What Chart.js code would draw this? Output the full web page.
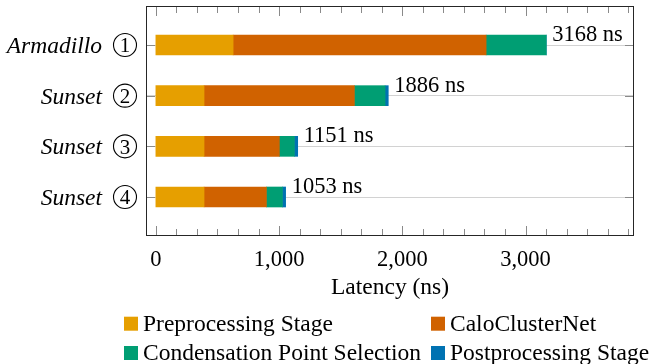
<!DOCTYPE html>
<html>
<head>
<meta charset="utf-8">
<script src="https://cdn.jsdelivr.net/npm/chart.js@4.4.0/dist/chart.umd.min.js"></script>
<style>
  html, body { margin: 0; padding: 0; background: #fff; }
  canvas { display: block; }
</style>
</head>
<body>
<canvas id="latency" width="651" height="364"></canvas>
<script>
// Per-stage latency (ns) for each run
const runNames = ['Armadillo', 'Sunset', 'Sunset', 'Sunset'];
const runIds = ['1', '2', '3', '4'];
const stageNames = ['Preprocessing Stage', 'CaloClusterNet', 'Condensation Point Selection', 'Postprocessing Stage'];
const preprocessing = [627, 391, 391, 391];
const caloClusterNet = [2053, 1220, 611, 506];
const condensation = [488, 249, 122, 130];
const postprocessing = [0, 26, 27, 26];
const xTickValues = [0, 1000, 2000, 3000];

const stageColors = ['#E69F00', '#D06200', '#009E73', '#0072B2'];
const stageSeries = [preprocessing, caloClusterNet, condensation, postprocessing];
const SERIF = '"Liberation Serif", "Times New Roman", serif';

const totals = runNames.map((_, i) => stageSeries.reduce((s, arr) => s + arr[i], 0));

const datasets = stageSeries.map((arr, k) => ({
  label: stageNames[k],
  data: arr.map((v, i) => ({ x: v, y: i })),
  backgroundColor: stageColors[k],
  borderWidth: 0,
  barThickness: 20
}));

// Frame, inner ticks, row labels, value labels and legend
const decorations = {
  id: 'decorations',
  afterDraw(chart) {
    const { ctx, chartArea: a, scales: { x, y } } = chart;
    ctx.save();

    // inner tick marks
    ctx.strokeStyle = '#8a8a8a';
    ctx.lineWidth = 1;
    ctx.beginPath();
    const step = 1000 / 6;
    for (let k = 0; k * step <= x.max; k++) {
      const v = k * step;
      const px = Math.round(x.getPixelForValue(v)) + 0.5;
      const len = (k % 6 === 0) ? 9 : 6;
      ctx.moveTo(px, a.top); ctx.lineTo(px, a.top + len);
      ctx.moveTo(px, a.bottom); ctx.lineTo(px, a.bottom - len);
    }
    runNames.forEach((_, i) => {
      const py = Math.round(y.getPixelForValue(i)) + 0.5;
      ctx.moveTo(a.left, py); ctx.lineTo(a.left + 8, py);
      ctx.moveTo(a.right, py); ctx.lineTo(a.right - 8, py);
    });
    ctx.stroke();

    // frame
    ctx.strokeStyle = '#262626';
    ctx.strokeRect(a.left - 0.5, a.top - 0.5, a.right - a.left + 1, a.bottom - a.top + 1);

    // row labels: italic name + circled run number
    ctx.fillStyle = '#000';
    runNames.forEach((name, i) => {
      const cy = y.getPixelForValue(i);
      ctx.font = 'italic 23.5px ' + SERIF;
      ctx.textAlign = 'right';
      ctx.textBaseline = 'alphabetic';
      ctx.fillText(name, 102, cy + 8);
      ctx.beginPath();
      ctx.lineWidth = 1.1;
      ctx.strokeStyle = '#000';
      ctx.arc(125, cy, 11.5, 0, Math.PI * 2);
      ctx.stroke();
      ctx.font = '21px ' + SERIF;
      ctx.textAlign = 'center';
      ctx.fillText(runIds[i], 125, cy + 7.3);
    });

    // total latency labels at the end of each bar
    ctx.font = '22.5px ' + SERIF;
    ctx.textAlign = 'left';
    ctx.textBaseline = 'alphabetic';
    totals.forEach((t, i) => {
      const px = x.getPixelForValue(t);
      const cy = y.getPixelForValue(i);
      ctx.fillText(t + ' ns', px + 6, cy - 4);
    });

    // legend, two columns
    const cols = [124, 431];
    const rows = [330.7, 360];
    ctx.font = '23.5px ' + SERIF;
    chart.data.datasets.forEach((ds, k) => {
      const cx = cols[k % 2];
      const base = rows[Math.floor(k / 2)];
      ctx.fillStyle = ds.backgroundColor;
      ctx.fillRect(cx, base - 14, 14, 14);
      ctx.fillStyle = '#000';
      ctx.fillText(ds.label, cx + 19, base);
    });

    ctx.restore();
  }
};

new Chart(document.getElementById('latency'), {
  type: 'bar',
  data: { datasets },
  options: {
    indexAxis: 'y',
    responsive: false,
    animation: false,
    devicePixelRatio: 1,
    layout: { padding: { top: 7, right: 18, left: 0, bottom: 62 } },
    plugins: { legend: { display: false }, tooltip: { enabled: false } },
    scales: {
      x: {
        type: 'linear',
        stacked: true,
        min: -72,
        max: 3872,
        grid: { display: false },
        border: { display: false },
        afterBuildTicks: s => { s.ticks = xTickValues.map(v => ({ value: v })); },
        afterFit: s => { s.height = 67; },
        ticks: {
          padding: 4,
          maxRotation: 0,
          color: '#000',
          font: { family: SERIF, size: 22.5 },
          callback: v => v.toLocaleString('en-US')
        },
        title: {
          display: true,
          text: 'Latency (ns)',
          color: '#000',
          padding: { top: 0, bottom: 0 },
          font: { family: SERIF, size: 23.5 }
        }
      },
      y: {
        type: 'linear',
        stacked: true,
        reverse: true,
        offset: false,
        min: -0.75,
        max: 3.75,
        afterBuildTicks: s => { s.ticks = runNames.map((_, i) => ({ value: i })); },
        afterFit: s => { s.width = 147; },
        ticks: { display: false },
        grid: { color: '#d2d2d2', lineWidth: 1, drawTicks: false, offset: false },
        border: { display: false }
      }
    }
  },
  plugins: [decorations]
});
</script>
</body>
</html>
